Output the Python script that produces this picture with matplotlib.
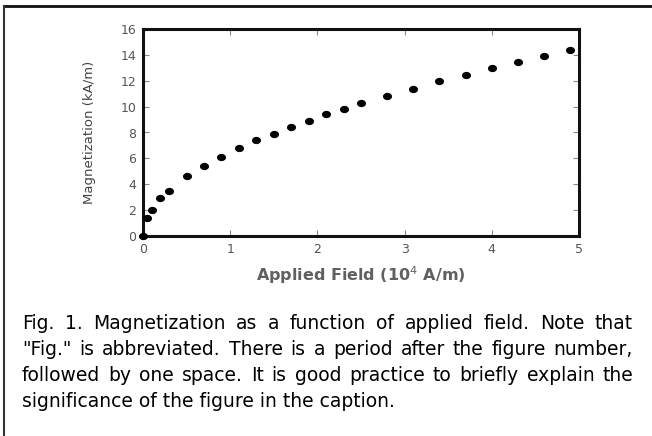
import numpy as np
import matplotlib.pyplot as plt

# field in units of 10^4 A/m, magnetization in kA/m
field = [0.0, 0.05, 0.1, 0.2, 0.3, 0.5, 0.7, 0.9, 1.1, 1.3, 1.5, 1.7, 1.9, 2.1,
         2.3, 2.5, 2.8, 3.1, 3.4, 3.7, 4.0, 4.3, 4.6, 4.9]
magnetization = [0.0, 1.4, 2.0, 2.9, 3.5, 4.6, 5.4, 6.1, 6.8, 7.4, 7.9, 8.4, 8.9, 9.4,
                 9.8, 10.25, 10.85, 11.4, 11.95, 12.45, 12.95, 13.45, 13.9, 14.4]
x_ticks = [0, 1, 2, 3, 4, 5]
y_ticks = [0, 2, 4, 6, 8, 10, 12, 14, 16]

caption_lines = [
    'Fig. 1. Magnetization as a function of applied field. Note that',
    '"Fig." is abbreviated. There is a period after the figure number,',
    'followed by one space. It is good practice to briefly explain the',
    'significance of the figure in the caption.',
]

plt.rcParams['font.family'] = ['DejaVu Sans']

W, H = 652, 436
fig = plt.figure(figsize=(W / 100, H / 100), dpi=100)

# outer frame (only top and left edges visible)
fig.add_artist(plt.Line2D([4 / W, 1], [1 - 6 / H, 1 - 6 / H], color='#111111', lw=2))
fig.add_artist(plt.Line2D([4 / W, 4 / W], [0, 1 - 6 / H], color='#333333', lw=1.5))

# slightly wide dots, like the reference
t = np.linspace(0, 2 * np.pi, 40)
dot = list(zip(1.3 * np.cos(t), np.sin(t)))

ax = fig.add_axes([143 / W, 1 - 236 / H, (579 - 143) / W, (236 - 29) / H])
ax.plot(field, magnetization, linestyle='none', marker=dot, color='black',
        markersize=5.5, clip_on=False, zorder=5)
ax.set_xlim(0, 5)
ax.set_ylim(0, 16)
ax.set_xticks(x_ticks)
ax.set_yticks(y_ticks)
for s in ax.spines.values():
    s.set_linewidth(2.2)
    s.set_color('#111111')
ax.tick_params(direction='in', length=4, width=0.8, color='#888888',
               top=True, right=True, labelsize=9, labelcolor='#555555', pad=5)

ax.set_xlabel('Applied Field (10$^4$ A/m)', fontsize=11.5, fontweight='bold',
              color='#606060', va='center')
ax.xaxis.set_label_coords(0.5, (236 - 275) / 207)
ax.set_ylabel('Magnetization (kA/m)', fontsize=9.5, color='#444444', va='center')
ax.yaxis.set_label_coords((90 - 143) / 436, 0.5)

# justified caption
renderer = fig.canvas.get_renderer()
left, right = 22, 633
baselines = [329, 355, 381, 407]
fsize = 13.5
for i, line in enumerate(caption_lines):
    y = 1 - baselines[i] / H
    if i == len(caption_lines) - 1:
        fig.text(left / W, y, line, fontsize=fsize, va='baseline', ha='left')
        continue
    words = line.split(' ')
    texts = [fig.text(0, y, w, fontsize=fsize, va='baseline', ha='left') for w in words]
    widths = [tx.get_window_extent(renderer).width for tx in texts]
    gap = (right - left - sum(widths)) / (len(words) - 1)
    x = left
    for tx, w in zip(texts, widths):
        tx.set_x(x / W)
        x += w + gap

fig.savefig('out.png', dpi=100)
